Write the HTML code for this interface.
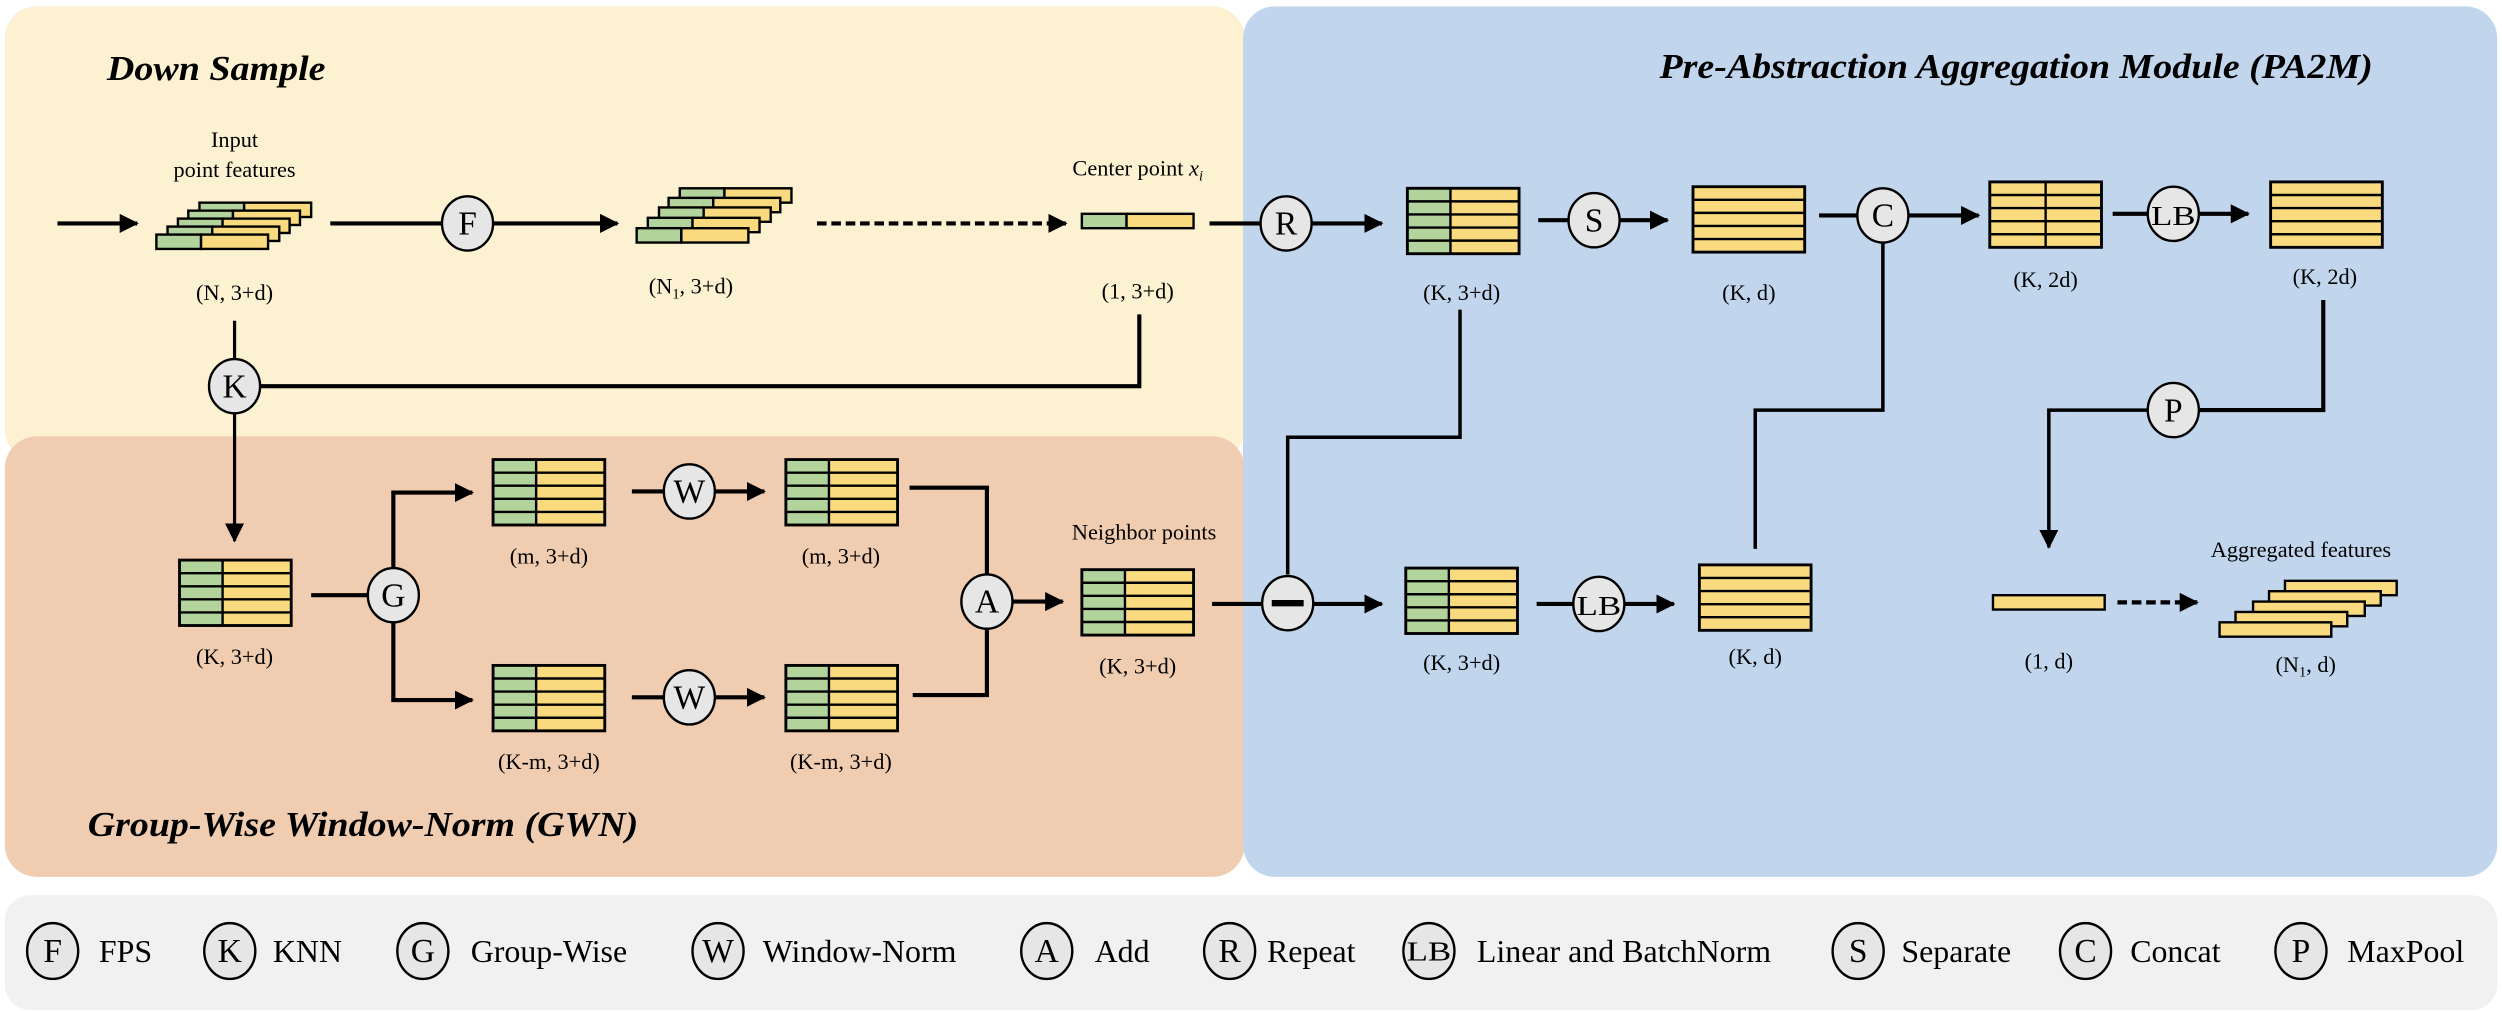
<!DOCTYPE html>
<html><head><meta charset="utf-8"><style>
html,body{margin:0;padding:0;background:#fff;}
svg{display:block;}
text{font-family:"Liberation Serif",serif;fill:#000;}
.t{font-size:14px;text-anchor:middle;}
.o{font-size:21px;text-anchor:middle;}
.lg{font-size:20px;}
.h{font-size:22px;font-weight:bold;font-style:italic;}
</style></head><body>
<svg width="2502" height="1012" viewBox="0 0 1568 634.2" preserveAspectRatio="none" xmlns="http://www.w3.org/2000/svg">
<defs>
<marker id="ar" markerUnits="userSpaceOnUse" markerWidth="12" markerHeight="12" refX="11" refY="6" orient="auto"><path d="M0,0 L12,6 L0,12 z" fill="#000"/></marker>
<g id="tbl"><rect x="0" y="0" width="27" height="41" fill="#b3d39c"/><rect x="27" y="0" width="43" height="41" fill="#f9da7e"/>
<path d="M0,8.2H70M0,16.4H70M0,24.6H70M0,32.8H70M27,0V41" stroke="#000" stroke-width="1.5"/><rect x="0" y="0" width="70" height="41" fill="none" stroke="#000" stroke-width="1.8"/></g>
<g id="ytbl"><rect x="0" y="0" width="70" height="41" fill="#f9da7e"/>
<path d="M0,8.2H70M0,16.4H70M0,24.6H70M0,32.8H70" stroke="#000" stroke-width="1.5"/><rect x="0" y="0" width="70" height="41" fill="none" stroke="#000" stroke-width="1.8"/></g>
<g id="ytbl2"><rect x="0" y="0" width="70" height="41" fill="#f9da7e"/>
<path d="M0,8.2H70M0,16.4H70M0,24.6H70M0,32.8H70M35,0V41" stroke="#000" stroke-width="1.5"/><rect x="0" y="0" width="70" height="41" fill="none" stroke="#000" stroke-width="1.8"/></g>
<g id="bar"><rect x="0" y="0" width="28" height="9" fill="#b3d39c" stroke="#000" stroke-width="1.5"/><rect x="28" y="0" width="42" height="9" fill="#f9da7e" stroke="#000" stroke-width="1.5"/></g>
<g id="ybar"><rect x="0" y="0" width="70" height="9" fill="#f9da7e" stroke="#000" stroke-width="1.5"/></g>
</defs>

<rect x="3" y="4" width="777" height="285" rx="20" fill="#fcf1d1"/>
<rect x="3" y="273.5" width="777" height="276" rx="20" fill="#f0cdb0"/>
<rect x="779" y="4" width="786" height="545.5" rx="20" fill="#c1d5ec"/>
<rect x="3" y="561" width="1562" height="72" rx="16" fill="#f1f1f1"/>

<text class="h" x="67" y="50" textLength="137" lengthAdjust="spacingAndGlyphs">Down Sample</text>
<text class="h" x="1040" y="49" textLength="447" lengthAdjust="spacingAndGlyphs">Pre-Abstraction Aggregation Module (PA2M)</text>
<text class="h" x="55" y="524" textLength="345" lengthAdjust="spacingAndGlyphs">Group-Wise Window-Norm (GWN)</text>

<g stroke="#000" fill="none" stroke-width="2.6">
<path d="M36,140H86" marker-end="url(#ar)"/>
<path d="M207,140H277"/>
<path d="M309,140H387" marker-end="url(#ar)"/>
<path d="M512,140H668" stroke-dasharray="6,3" marker-end="url(#ar)"/>
<path d="M758,140H790"/>
<path d="M822,140H866" marker-end="url(#ar)"/>
<path d="M964,138H983"/>
<path d="M1015,138H1045" marker-end="url(#ar)"/>
<path d="M1140,135H1164"/>
<path d="M1196,135H1240" marker-end="url(#ar)"/>
<path d="M1324,134H1346"/>
<path d="M1378,134H1409" marker-end="url(#ar)"/>
<path d="M163,242H714V197"/>
<path d="M195,373H230"/>
<path d="M246.5,356V308.7H296" marker-end="url(#ar)"/>
<path d="M246.5,390V438.7H296" marker-end="url(#ar)"/>
<path d="M396,308H416"/>
<path d="M448,308H479" marker-end="url(#ar)"/>
<path d="M396,437H416"/>
<path d="M448,437H479" marker-end="url(#ar)"/>
<path d="M570,305.6H618.5V360"/>
<path d="M572,435.6H618.5V394"/>
<path d="M635,377H666" marker-end="url(#ar)"/>
<path d="M759.6,378.5H791"/>
<path d="M823,378.5H866" marker-end="url(#ar)"/>
<path d="M963,378.5H986"/>
<path d="M1018,378.5H1049" marker-end="url(#ar)"/>
<path d="M1327,377.5H1377" stroke-dasharray="6,3" marker-end="url(#ar)"/>
<path d="M915,194V274H807V360" stroke-width="2.2"/>
<path d="M1180,152V257H1100V344" stroke-width="2.2"/>
<path d="M1456,188V257H1378"/>
<path d="M1346,257H1284V343" stroke-width="2.2" marker-end="url(#ar)"/>
</g>
<g stroke="#000" fill="none" stroke-width="2">
<path d="M147,201V225"/>
<path d="M147,259V339" marker-end="url(#ar)"/>
</g>

<use href="#bar" x="125" y="127"/><use href="#bar" x="118" y="132"/><use href="#bar" x="111.5" y="137"/><use href="#bar" x="105" y="142"/><use href="#bar" x="98" y="147"/>
<use href="#bar" x="426" y="118"/><use href="#bar" x="419" y="124"/><use href="#bar" x="413" y="130"/><use href="#bar" x="406" y="136.5"/><use href="#bar" x="399" y="143"/>
<use href="#bar" x="678" y="134"/>
<use href="#tbl" x="882" y="118"/>
<use href="#ytbl" x="1061" y="117"/>
<use href="#ytbl2" x="1247" y="114"/>
<use href="#ytbl" x="1423" y="114"/>
<use href="#tbl" x="112.5" y="351"/>
<use href="#tbl" x="309" y="288"/>
<use href="#tbl" x="492.5" y="288"/>
<use href="#tbl" x="309" y="417"/>
<use href="#tbl" x="492.5" y="417"/>
<use href="#tbl" x="678" y="357"/>
<use href="#tbl" x="881" y="356"/>
<use href="#ytbl" x="1065" y="354"/>
<use href="#ybar" x="1249" y="373"/>
<use href="#ybar" x="1432" y="364"/><use href="#ybar" x="1422" y="370.5"/><use href="#ybar" x="1412" y="377"/><use href="#ybar" x="1401" y="383.5"/><use href="#ybar" x="1391" y="390"/>

<g fill="#e6e6e6" stroke="#000" stroke-width="1.5">
<ellipse cx="293" cy="140" rx="16" ry="17"/>
<ellipse cx="147" cy="242" rx="16" ry="17"/>
<ellipse cx="806" cy="140" rx="16" ry="17"/>
<ellipse cx="999" cy="138" rx="16" ry="17"/>
<ellipse cx="1180" cy="135" rx="16" ry="17"/>
<ellipse cx="1362" cy="134" rx="16" ry="17"/>
<ellipse cx="1362" cy="257" rx="16" ry="17"/>
<ellipse cx="246.5" cy="373" rx="16" ry="17"/>
<ellipse cx="432" cy="308" rx="16" ry="17"/>
<ellipse cx="432" cy="437" rx="16" ry="17"/>
<ellipse cx="618.5" cy="377" rx="16" ry="17"/>
<ellipse cx="807" cy="378" rx="16" ry="17"/>
<ellipse cx="1002" cy="378.5" rx="16" ry="17"/>
</g>
<rect x="797" y="376" width="20" height="4" fill="#000"/>
<text class="o" x="293" y="147">F</text>
<text class="o" x="147" y="249">K</text>
<text class="o" x="806" y="147">R</text>
<text class="o" x="999" y="145">S</text>
<text class="o" x="1180" y="142">C</text>
<text class="o" x="1362" y="141" style="font-size:17px" textLength="28" lengthAdjust="spacingAndGlyphs">LB</text>
<text class="o" x="1362" y="264">P</text>
<text class="o" x="246.5" y="380">G</text>
<text class="o" x="432" y="315">W</text>
<text class="o" x="432" y="444">W</text>
<text class="o" x="618.5" y="384">A</text>
<text class="o" x="1002" y="385.5" style="font-size:17px" textLength="28" lengthAdjust="spacingAndGlyphs">LB</text>

<text class="t" x="147" y="92">Input</text>
<text class="t" x="147" y="111">point features</text>
<text class="t" x="147" y="188">(N, 3+d)</text>
<text class="t" x="433" y="184">(N<tspan font-size="9" dy="3">1</tspan><tspan dy="-3">, 3+d)</tspan></text>
<text class="t" x="713" y="110">Center point <tspan font-style="italic">x<tspan font-size="9" dy="3">i</tspan></tspan></text>
<text class="t" x="713" y="187">(1, 3+d)</text>
<text class="t" x="916" y="188">(K, 3+d)</text>
<text class="t" x="1096" y="188">(K, d)</text>
<text class="t" x="1282" y="180">(K, 2d)</text>
<text class="t" x="1457" y="178">(K, 2d)</text>
<text class="t" x="147" y="416">(K, 3+d)</text>
<text class="t" x="344" y="353">(m, 3+d)</text>
<text class="t" x="527" y="353">(m, 3+d)</text>
<text class="t" x="344" y="482">(K-m, 3+d)</text>
<text class="t" x="527" y="482">(K-m, 3+d)</text>
<text class="t" x="717" y="338">Neighbor points</text>
<text class="t" x="713" y="422">(K, 3+d)</text>
<text class="t" x="916" y="420">(K, 3+d)</text>
<text class="t" x="1100" y="416">(K, d)</text>
<text class="t" x="1284" y="419">(1, d)</text>
<text class="t" x="1445" y="421">(N<tspan font-size="9" dy="3">1</tspan><tspan dy="-3">, d)</tspan></text>
<text class="t" x="1442" y="349">Aggregated features</text>

<g fill="#e6e6e6" stroke="#000" stroke-width="1.5">
<ellipse cx="33" cy="596" rx="16" ry="17.5"/>
<ellipse cx="144" cy="596" rx="16" ry="17.5"/>
<ellipse cx="265" cy="596" rx="16" ry="17.5"/>
<ellipse cx="450" cy="596" rx="16" ry="17.5"/>
<ellipse cx="656" cy="596" rx="16" ry="17.5"/>
<ellipse cx="770.6" cy="596" rx="16" ry="17.5"/>
<ellipse cx="895.5" cy="596" rx="16" ry="17.5"/>
<ellipse cx="1164.5" cy="596" rx="16" ry="17.5"/>
<ellipse cx="1307" cy="596" rx="16" ry="17.5"/>
<ellipse cx="1442" cy="596" rx="16" ry="17.5"/>
</g>
<text class="o" x="33" y="603">F</text>
<text class="o" x="144" y="603">K</text>
<text class="o" x="265" y="603">G</text>
<text class="o" x="450" y="603">W</text>
<text class="o" x="656" y="603">A</text>
<text class="o" x="770.6" y="603">R</text>
<text class="o" x="895.5" y="602" style="font-size:17px" textLength="28" lengthAdjust="spacingAndGlyphs">LB</text>
<text class="o" x="1164.5" y="603">S</text>
<text class="o" x="1307" y="603">C</text>
<text class="o" x="1442" y="603">P</text>
<text class="lg" x="62" y="603">FPS</text>
<text class="lg" x="171" y="603">KNN</text>
<text class="lg" x="295" y="603">Group-Wise</text>
<text class="lg" x="478" y="603">Window-Norm</text>
<text class="lg" x="686" y="603">Add</text>
<text class="lg" x="794" y="603">Repeat</text>
<text class="lg" x="925.6" y="603">Linear and BatchNorm</text>
<text class="lg" x="1191.6" y="603">Separate</text>
<text class="lg" x="1335" y="603">Concat</text>
<text class="lg" x="1471" y="603">MaxPool</text>
</svg>
</body></html>
